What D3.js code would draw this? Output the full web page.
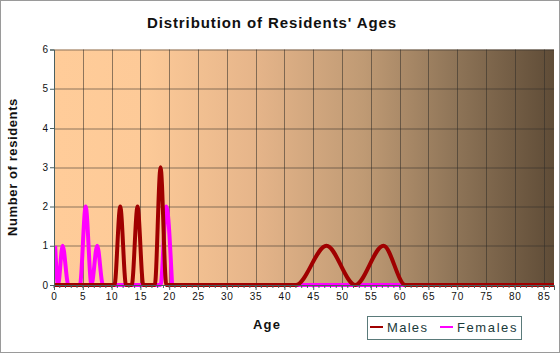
<!DOCTYPE html>
<html>
<head>
<meta charset="utf-8">
<script src="https://cdn.jsdelivr.net/npm/d3@7"></script>
<style>
  body { margin: 0; background: #fff; }
  #chart { width: 560px; height: 353px; }
  text { font-family: "Liberation Sans", Arial, sans-serif; }
</style>
</head>
<body>
<div id="chart"></div>
<script>
// data
const maleAges = [0, 10.5, 11.5, 12.5, 13.5, 14.5, 15.5, 17.5, 18.5, 19.5, 42, 47.3, 52.3, 57.2, 61, 87];
const maleValues = [0, 0, 2, 0, 0, 2, 0, 0, 3, 0, 0, 1, 0, 1, 0, 0];

const femaleAges = [0.2, 0.7, 1.5, 2.5, 4.5, 5.5, 6.5, 7.5, 8.5, 13.5, 17.5, 18.5, 19.5, 20.5, 29, 38, 61];
const femaleValues = [1, 0, 1, 0, 0, 2, 0, 1, 0, 0, 0, 0, 2, 0, null, 0, 0];

const xTicks = d3.range(0, 90, 5);
const yTicks = [0, 1, 2, 3, 4, 5, 6];

const series = [
  { name: "Males", color: "#a00000", ages: maleAges, values: maleValues },
  { name: "Females", color: "#ff00ff", ages: femaleAges, values: femaleValues },
];

const width = 560, height = 353;
const margin = { left: 54, right: 6, top: 49.5, bottom: 68 };
const innerW = width - margin.left - margin.right;
const innerH = height - margin.top - margin.bottom;

const svg = d3.select("#chart").append("svg")
  .attr("width", width).attr("height", height);

svg.append("rect")
  .attr("x", 0.5).attr("y", 0.5)
  .attr("width", width - 1).attr("height", height - 1)
  .attr("fill", "#fff").attr("stroke", "#9a9a9a");

const defs = svg.append("defs");
const grad = defs.append("linearGradient").attr("id", "bg");
[["0%", "#ffcc99"], ["18%", "#fdca98"], ["40%", "#e6b58a"], ["62%", "#bf9a74"], ["80%", "#8f7558"], ["100%", "#5f4c37"]]
  .forEach(([o, c]) => grad.append("stop").attr("offset", o).attr("stop-color", c));
defs.append("clipPath").attr("id", "clip")
  .append("rect").attr("width", innerW).attr("height", innerH + 4).attr("y", -2);

svg.append("text")
  .attr("x", 272).attr("y", 28)
  .attr("text-anchor", "middle")
  .attr("font-size", 15).attr("font-weight", "bold")
  .attr("letter-spacing", 0.9)
  .attr("fill", "#111")
  .text("Distribution of Residents' Ages");

const g = svg.append("g").attr("transform", `translate(${margin.left},${margin.top})`);

const x = d3.scaleLinear().domain([0, 86.8]).range([0, innerW]);
const y = d3.scaleLinear().domain([0, 6]).range([innerH, 0]);

g.append("rect").attr("width", innerW).attr("height", innerH).attr("fill", "url(#bg)");

// grid
g.append("g").selectAll("line").data(xTicks.filter(d => d > 0)).join("line")
  .attr("x1", d => Math.round(x(d)) + 0.5).attr("x2", d => Math.round(x(d)) + 0.5)
  .attr("y1", 0).attr("y2", innerH)
  .attr("stroke", "rgba(50,45,40,0.55)");
g.append("g").selectAll("line").data(yTicks.filter(d => d > 0)).join("line")
  .attr("y1", d => Math.round(y(d)) + 0.5).attr("y2", d => Math.round(y(d)) + 0.5)
  .attr("x1", 0).attr("x2", innerW)
  .attr("stroke", "rgba(50,45,40,0.55)");

// lines
const plot = g.append("g").attr("clip-path", "url(#clip)");
series.slice().reverse().forEach(s => {
  const pts = s.ages.map((a, i) => [a, s.values[i]]);
  const line = d3.line()
    .defined(d => d[1] != null)
    .x(d => x(d[0])).y(d => y(d[1]))
    .curve(d3.curveMonotoneX);
  plot.append("path").datum(pts)
    .attr("d", line)
    .attr("fill", "none")
    .attr("stroke", s.color)
    .attr("stroke-width", 4)
    .attr("stroke-linejoin", "round");
});

// axes
const xAxis = g.append("g").attr("transform", `translate(0,${innerH})`)
  .call(d3.axisBottom(x).tickValues(xTicks).tickSize(5).tickPadding(3));
g.append("g").attr("transform", `translate(0,${innerH})`)
  .selectAll("line").data(d3.range(0, 87)).join("line")
  .attr("x1", d => x(d)).attr("x2", d => x(d))
  .attr("y1", 0).attr("y2", 3)
  .attr("stroke", "#4a6060");
const yAxis = g.append("g")
  .call(d3.axisLeft(y).tickValues(yTicks).tickFormat(d3.format("d")).tickSize(4).tickPadding(2));

[xAxis, yAxis].forEach(a => {
  a.select(".domain").attr("stroke", "#4a6060");
  a.selectAll(".tick line").attr("stroke", "#4a6060");
  a.selectAll(".tick text").attr("font-size", 10).attr("fill", "#111")
    .attr("font-family", "Liberation Sans, Arial, sans-serif");
});
xAxis.selectAll(".tick text").attr("letter-spacing", 0.8);

svg.append("text")
  .attr("x", 267).attr("y", 329)
  .attr("text-anchor", "middle")
  .attr("font-size", 13).attr("font-weight", "bold")
  .attr("letter-spacing", 1.2).attr("fill", "#111")
  .text("Age");

svg.append("text")
  .attr("transform", "translate(17,167) rotate(-90)")
  .attr("text-anchor", "middle")
  .attr("font-size", 13).attr("font-weight", "bold")
  .attr("letter-spacing", 0.6).attr("fill", "#111")
  .text("Number of residents");

// legend
const legend = svg.append("g");
legend.append("rect")
  .attr("x", 367.5).attr("y", 316.5).attr("width", 154).attr("height", 23)
  .attr("fill", "none").attr("stroke", "#5a7a7a");
const legendX = [370, 440];
series.forEach((s, i) => {
  legend.append("line")
    .attr("x1", legendX[i]).attr("x2", legendX[i] + 13)
    .attr("y1", 327).attr("y2", 327)
    .attr("stroke", s.color).attr("stroke-width", 2);
  legend.append("text")
    .attr("x", legendX[i] + 17).attr("y", 332)
    .attr("font-size", 13).attr("letter-spacing", i ? 1.6 : 1.3)
    .attr("fill", "#1a3a3a")
    .text(s.name);
});
</script>
</body>
</html>
